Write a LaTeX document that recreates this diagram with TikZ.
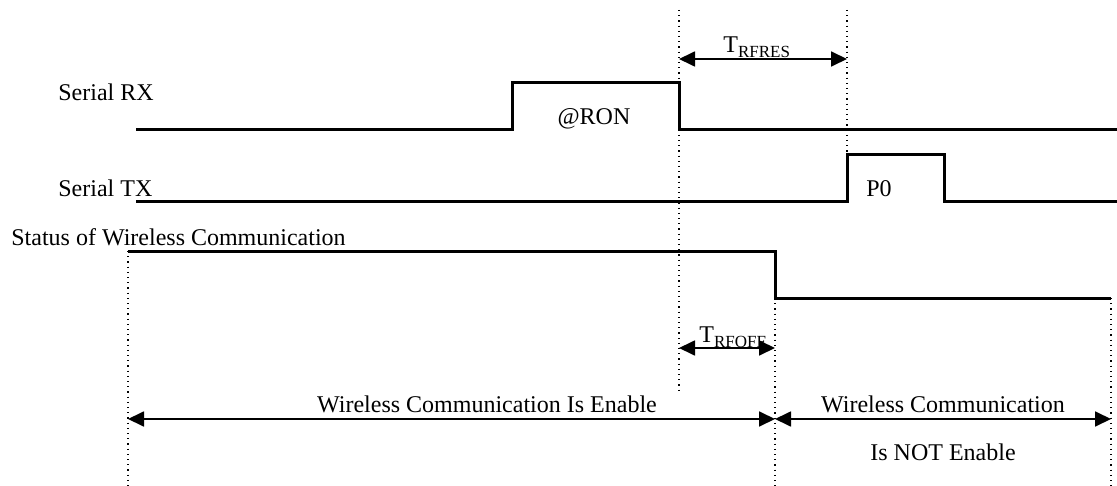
\documentclass[tikz,border=0pt]{standalone}
\usepackage{fontspec}
\setmainfont{Liberation Serif}
\usepackage{tikz}
\usetikzlibrary{shapes,arrows.meta}
\tikzstyle{signal} = [draw, line width=1.5pt]
\tikzstyle{guide} = [draw, dotted, line width=0.6pt]
\tikzstyle{span} = [draw, line width=0.9pt, {Triangle[length=8pt,width=7.5pt]}-{Triangle[length=8pt,width=7.5pt]}]
\tikzstyle{tag} = [inner sep=0pt, font=\fontsize{12}{14}\selectfont]
\newcommand{\tname}[1]{T\raisebox{-2.5pt}{\fontsize{8.5}{10}\selectfont #1}}

\begin{document}
\begin{tikzpicture}[x=0.5pt, y=-0.5pt]
\useasboundingbox (0,0) rectangle (1117,486);
\node [tag, anchor=base west] (rx-name) at (58,101) {Serial RX};
\node [tag, anchor=base west] (tx-name) at (58,197) {Serial TX};
\node [tag, anchor=base west] (st-name) at (11,245) {Status of Wireless Communication};
\draw [signal] (136,130) -- (512,130) -- (512,83) -- (679,83) -- (679,130) -- (1117,130);
\draw [signal] (136,202) -- (847,202) -- (847,155) -- (944,155) -- (944,202) -- (1117,202);
\draw [signal] (128,251) -- (775,251) -- (775,298) -- (1111,298);
\node [tag, anchor=base] (ron) at (594,125) {@RON};
\node [tag, anchor=base] (p0) at (879,197) {P0};
\coordinate (rx-fall-top) at (679,10);
\coordinate (rx-fall-bot) at (679,392);
\coordinate (tx-rise-top) at (847,10);
\coordinate (tx-rise-bot) at (847,155);
\coordinate (st-start) at (128,251);
\coordinate (st-start-bot) at (128,486);
\coordinate (st-fall) at (775,298);
\coordinate (st-fall-bot) at (775,486);
\coordinate (st-end) at (1111,298);
\coordinate (st-end-bot) at (1111,486);
\path [guide] (rx-fall-top) -- (rx-fall-bot);
\path [guide] (tx-rise-top) -- (tx-rise-bot);
\path [guide] (st-start) -- (st-start-bot);
\path [guide] (st-fall) -- (st-fall-bot);
\path [guide] (st-end) -- (st-end-bot);
\coordinate (res-a) at (679,59);
\coordinate (res-b) at (847,59);
\coordinate (off-a) at (679,348);
\coordinate (off-b) at (775,348);
\coordinate (en-a) at (128,419);
\coordinate (en-b) at (775,419);
\coordinate (dis-a) at (775,419);
\coordinate (dis-b) at (1111,419);
\path [span] (res-a) -- (res-b);
\path [span] (off-a) -- (off-b);
\path [span] (en-a) -- (en-b);
\path [span] (dis-a) -- (dis-b);
\node [tag, anchor=base west] (t-res) at (723,53) {\tname{RFRES}};
\node [tag, anchor=base west] (t-off) at (699,342) {\tname{RFOFF}};
\node [tag, anchor=base] (en-text) at (487,412) {Wireless Communication Is Enable};
\node [tag, anchor=base] (dis-text) at (943,412) {Wireless Communication};
\node [tag, anchor=base] (dis-text2) at (943,460) {Is NOT Enable};
\end{tikzpicture}
\end{document}
